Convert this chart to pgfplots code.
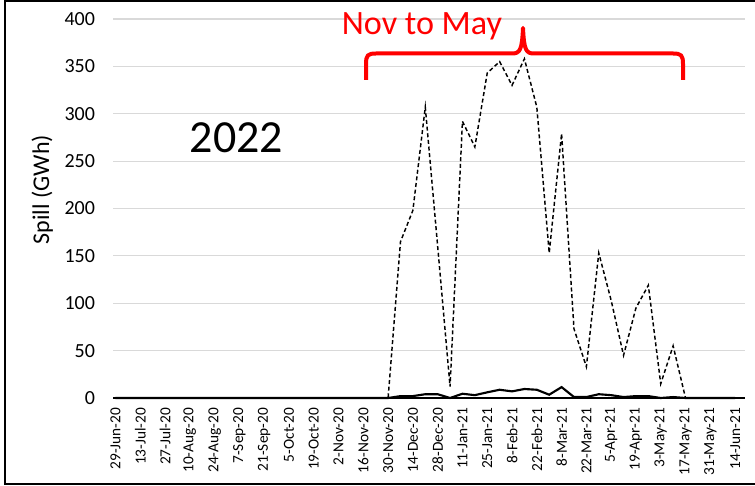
\documentclass[border=0pt]{standalone}
\usepackage{fontspec}
\setmainfont{Carlito}
\usepackage{pgfplots}
\pgfplotsset{compat=1.18}

\definecolor{gridgray}{HTML}{D9D9D9}

% weekly spill, week 0 = 29-Jun-20
\pgfplotstableread{
w spill
0 0
5 0
10 0
15 0
20 0
21 0
22 0
23 165
24 198
25 307
26 160
27 12
28 292
29 265
30 343
31 355
32 330
33 358
34 307
35 153
36 279
37 73
38 33
39 153
40 103
41 45
42 95
43 119
44 15
45 55
46 0
}\spilltop
\pgfplotstableread{
w spill
0 0
21 0
22 0
23 2
24 2
25 4
26 4
27 0
28 4.5
29 3
30 6
31 8.7
32 7
33 9.5
34 8.7
35 3.5
36 11.5
37 1
38 1
39 4
40 3
41 1
42 2
43 2
44 0
45 1
46 0
50 0
}\spillother

\begin{document}
\begin{tikzpicture}[x=0.75pt,y=0.75pt]
\useasboundingbox (0,0) rectangle (755,485);
\begin{axis}[
    at={(84.75pt,65.25pt)}, anchor=south west,
    scale only axis,
    width=474pt, height=284.25pt,
    xmin=-0.2, xmax=50.8,
    ymin=0, ymax=400,
    ytick={0,50,...,400},
    xtick={0,2,...,50},
    xticklabels={29-Jun-20,13-Jul-20,27-Jul-20,10-Aug-20,24-Aug-20,7-Sep-20,21-Sep-20,5-Oct-20,19-Oct-20,2-Nov-20,16-Nov-20,30-Nov-20,14-Dec-20,28-Dec-20,11-Jan-21,25-Jan-21,8-Feb-21,22-Feb-21,8-Mar-21,22-Mar-21,5-Apr-21,19-Apr-21,3-May-21,17-May-21,31-May-21,14-Jun-21},
    axis x line*=bottom,
    axis y line*=left,
    y axis line style={draw=none},
    x axis line style={black, line width=1.2pt, -},
    major tick length=0pt,
    ymajorgrids,
    grid style={gridgray, line width=0.8pt},
    /pgf/number format/assume math mode=true,
    yticklabel style={font=\fontsize{15}{17}\selectfont, xshift=-10pt},
    xticklabel style={font=\fontsize{11.5}{13}\selectfont, rotate=90, anchor=east, xshift=-4pt},
    ylabel={Spill (GWh)},
    ylabel style={font=\fontsize{18}{20}\selectfont, at={(axis description cs:-0.112,0.55)}, anchor=center, rotate=0},
    clip=false,
]
\addplot[black, line width=1.1pt, dash pattern=on 3pt off 2pt] table[x=w, y=spill] {\spilltop};
\addplot[black, line width=1.6pt] table[x=w, y=spill] {\spillother};
\end{axis}
\begin{scope}[yshift=485*0.75pt, y=-0.75pt]
  \draw[black, line width=1.5pt] (756,1.5) -- (5,1.5) -- (5,483.5) -- (756,483.5);
  \node[anchor=base, font=\fontsize{34.5}{40}\selectfont] at (236.5,153) {2022};
  \node[anchor=base, text=red, font=\fontsize{25.6}{30}\selectfont] at (422,35) {Nov to May};
  \draw[red, line width=3pt, line cap=butt, line join=round]
    (366,80) -- (366,64) .. controls (366,55) and (368,53.5) .. (376,53.5)
    -- (512,53.5) .. controls (520,53.5) and (522,50) .. (523,28)
    .. controls (524,50) and (526,53.5) .. (534,53.5)
    -- (673,53.5) .. controls (681,53.5) and (683,55) .. (683,64) -- (683,80);
\end{scope}
\end{tikzpicture}
\end{document}
